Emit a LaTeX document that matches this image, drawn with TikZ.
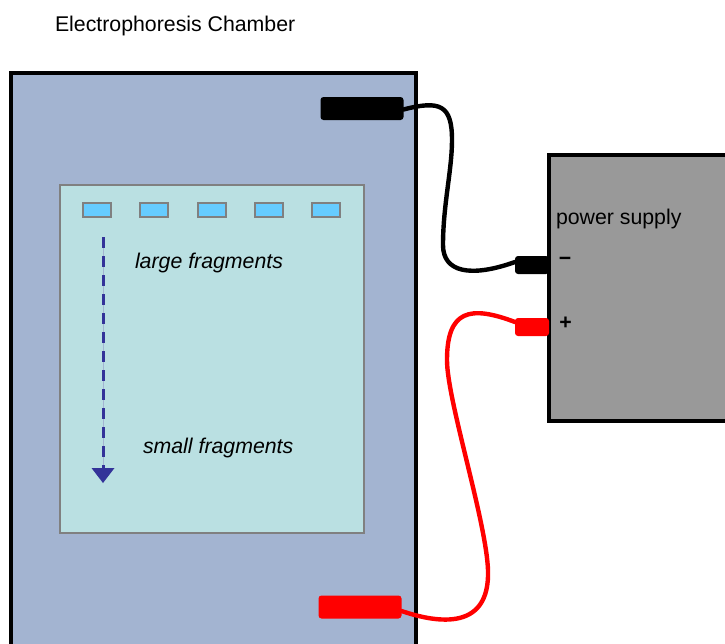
\documentclass[tikz,border=0pt]{standalone}
\usepackage{fontspec}
\setmainfont{Liberation Sans}
\definecolor{chamberblue}{HTML}{A3B4D1}
\definecolor{gelgreen}{HTML}{BAE0E2}
\definecolor{wellblue}{HTML}{66CCFF}
\definecolor{arrowblue}{HTML}{333399}
\definecolor{psgray}{HTML}{999999}
\definecolor{edgegray}{HTML}{808080}
\tikzset{
 chamberbox/.style={draw=black,line width=3.8pt,fill=chamberblue},
 gelbox/.style={draw=edgegray,line width=2.8pt,fill=gelgreen},
 wellbox/.style={draw=edgegray,line width=2.2pt,fill=wellblue,minimum width=28pt,minimum height=14pt,inner sep=0pt,outer sep=0pt},
 psbox/.style={draw=black,line width=3.6pt,fill=psgray},
 clampbox/.style={rounded corners=3pt,inner sep=0pt,outer sep=0pt},
 lab/.style={inner sep=0pt,outer sep=0pt,text=black,font=\fontsize{21.3}{25}\selectfont},
 frag/.style={lab,font=\fontsize{21.3}{25}\selectfont\itshape},
 sign/.style={lab,font=\bfseries\fontsize{21.3}{25}\selectfont},
 wire/.style={line width=4.4pt,line cap=round}
}
\begin{document}
\begin{tikzpicture}[x=1pt,y=-1pt]
\useasboundingbox (0,0) rectangle (725,643);
\node[lab,anchor=west] (title) at (55,26) {Electrophoresis Chamber};
% chamber and gel
\path[chamberbox] (11,73) rectangle (416,660);
\path[gelbox] (60,185) rectangle (364,533);
\node[wellbox] (w1) at (97,210) {};
\node[wellbox] (w2) at (154,210) {};
\node[wellbox] (w3) at (212,210) {};
\node[wellbox] (w4) at (269,210) {};
\node[wellbox] (w5) at (326,210) {};
% power supply
\path[psbox] (549,155) rectangle (740,421);
% clamps
\node[clampbox,fill=black,minimum width=83pt,minimum height=23pt] (clampA) at (362,108.5) {};
\node[clampbox,fill=black,minimum width=34pt,minimum height=18pt,anchor=west] (clampB) at (515,265) {};
\node[clampbox,fill=red,minimum width=83pt,minimum height=23pt] (clampC) at (360,607) {};
\node[clampbox,fill=red,minimum width=34pt,minimum height=18pt,anchor=west] (clampD) at (515,327) {};
\coordinate (bs) at ([yshift=-1pt]clampA.east);
\coordinate (bt) at ([yshift=3pt]clampB.west);
\coordinate (rs) at ([yshift=-4pt]clampC.east);
\coordinate (rt) at ([yshift=5pt]clampD.west);
\draw[wire,black] (bs) .. controls (440,100) and (452,105) .. (452,140)
  .. controls (452,170) and (443,205) .. (443,245)
  .. controls (443,272) and (470,278) .. (bt);
\draw[wire,red] (rs) .. controls (440,624) and (490,630) .. (488,570)
  .. controls (486,520) and (447,400) .. (447,360)
  .. controls (447,310) and (470,305) .. (rt);
% labels
\node[lab,anchor=west] (ps) at (556,219) {power supply};
\node[sign,anchor=center] (minus) at (565,261.5) {−};
\node[sign,anchor=center] (plus) at (565.5,323) {+};
\node[frag,anchor=west] (large) at (135,263) {large fragments};
\node[frag,anchor=west] (small) at (143,448) {small fragments};
% direction arrow
\coordinate (as) at (103,237);
\coordinate (ae) at (103,468);
\draw[chamberblue,line width=0.8pt] (as) -- (ae);
\draw[arrowblue,line width=3pt,dash pattern=on 11pt off 8pt] (as) -- (ae);
\fill[arrowblue] (91.5,468) -- (114.5,468) -- (103,483) -- cycle;
\end{tikzpicture}
\end{document}
